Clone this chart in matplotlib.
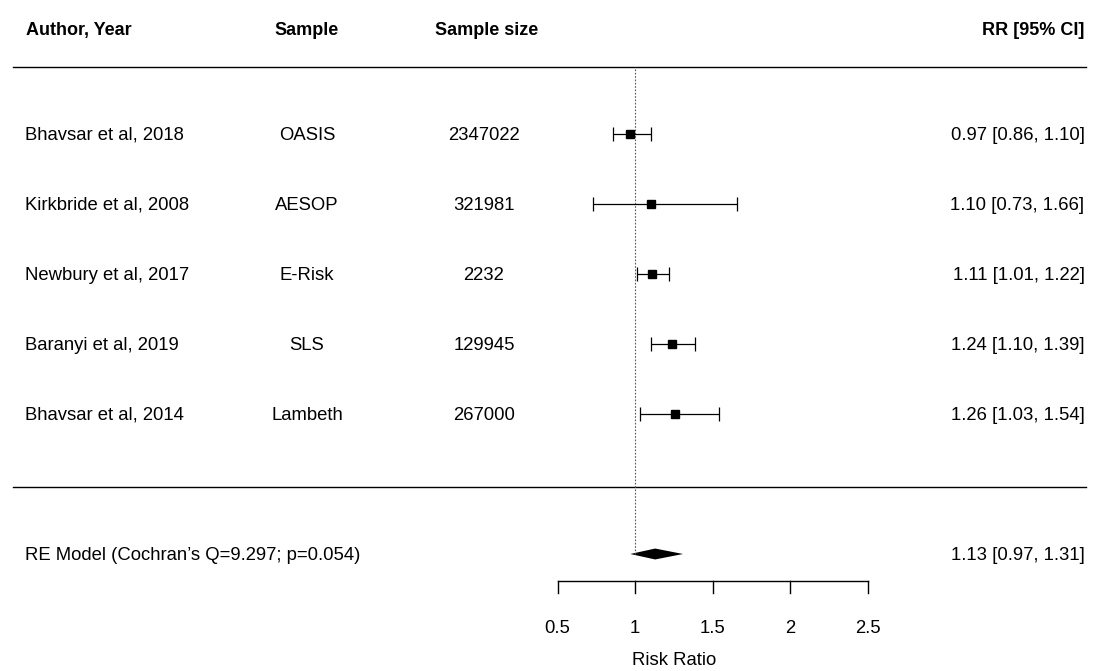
import matplotlib.pyplot as plt
from matplotlib.transforms import blended_transform_factory

plt.rcParams['font.family'] = ['Liberation Sans', 'DejaVu Sans']

# Studies in the meta-analysis (top to bottom)
authors = ['Bhavsar et al, 2018', 'Kirkbride et al, 2008', 'Newbury et al, 2017',
           'Baranyi et al, 2019', 'Bhavsar et al, 2014']
samples = ['OASIS', 'AESOP', 'E-Risk', 'SLS', 'Lambeth']
sizes = ['2347022', '321981', '2232', '129945', '267000']
rr = [0.97, 1.10, 1.11, 1.24, 1.26]
ci_low = [0.86, 0.73, 1.01, 1.10, 1.03]
ci_high = [1.10, 1.66, 1.22, 1.39, 1.54]
box_size = [6.4, 5.6, 5.4, 5.6, 5.4]

# Pooled random-effects estimate
re_est, re_low, re_high = 1.13, 0.97, 1.31
re_label = "RE Model (Cochran\u2019s Q=9.297; p=0.054)"

xticks = [0.5, 1, 1.5, 2, 2.5]

fig = plt.figure(figsize=(11, 6.71), dpi=100)
ax = fig.add_axes([0, 0, 1, 1])
ax.set_xlim(1 - 635 / 155, 1 + 465 / 155)
ax.set_ylim(5 - 537 / 70, 5 + 134 / 70)
ax.axis('off')

rows = list(range(len(authors), 0, -1))
re_row = -1
fs = 13.3
va = 'baseline'
dy = -0.08  # drop baseline so capitals sit centred on the row
tr = blended_transform_factory(ax.transAxes, ax.transData)

# column headers
hy = 6.5 + dy
hdr = dict(transform=tr, fontsize=13, fontweight='bold', va=va)
ax.text(0.024, hy, 'Author, Year', **hdr)
ax.text(0.279, hy, 'Sample', ha='center', **hdr)
ax.text(0.442, hy, 'Sample size', ha='center', **hdr)
ax.text(0.986, hy, 'RR [95% CI]', ha='right', **hdr)

# separators
ax.plot([0.012, 0.987], [5.96, 5.96], transform=tr, color='black', lw=1)
ax.plot([0.012, 0.987], [-0.04, -0.04], transform=tr, color='black', lw=1)

# reference line at RR = 1
ax.plot([1, 1], [re_row, 5.96], color='#555555', lw=0.8, ls=(0, (1.5, 1.5)))

for y, a, s, n, est, lo, hi, ms in zip(rows, authors, samples, sizes, rr, ci_low, ci_high, box_size):
    ax.text(0.023, y + dy, a, transform=tr, fontsize=fs, va=va)
    ax.text(0.279, y + dy, s, transform=tr, fontsize=fs, va=va, ha='center')
    ax.text(0.440, y + dy, n, transform=tr, fontsize=fs, va=va, ha='center')
    ax.text(0.986, y + dy, f'{est:.2f} [{lo:.2f}, {hi:.2f}]', transform=tr,
            fontsize=fs, va=va, ha='right')
    ax.errorbar(est, y, xerr=[[est - lo], [hi - est]], fmt='none', ecolor='black',
                elinewidth=0.9, capsize=5, capthick=0.9)
    ax.plot(est, y, marker='s', color='black', ms=ms, ls='none')

# pooled diamond
ax.fill([re_low, re_est, re_high, re_est], [re_row, re_row + 0.078, re_row, re_row - 0.078],
        color='black', lw=0)
ax.text(0.023, re_row + dy, re_label, transform=tr, fontsize=fs, va=va)
ax.text(0.986, re_row + dy, f'{re_est:.2f} [{re_low:.2f}, {re_high:.2f}]', transform=tr,
        fontsize=fs, va=va, ha='right')

# x axis
axis_y = -1.39
ax.plot([xticks[0], xticks[-1]], [axis_y, axis_y], color='black', lw=1)
for t in xticks:
    ax.plot([t, t], [axis_y, axis_y - 0.17], color='black', lw=1)
    ax.text(t, axis_y - 0.66 + dy, f'{t:g}', fontsize=fs, ha='center', va=va)
ax.text(1.25, axis_y - 1.12 + dy, 'Risk Ratio', fontsize=fs, ha='center', va=va)

fig.savefig('out.png', dpi=100, facecolor='white')
